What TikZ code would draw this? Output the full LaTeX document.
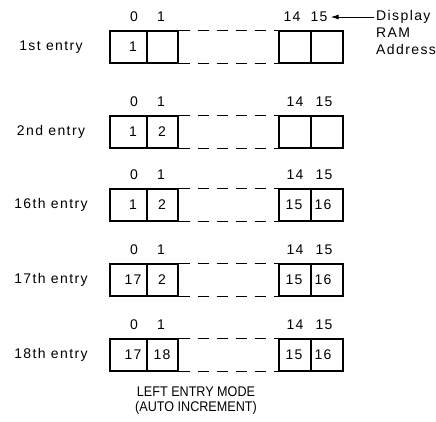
\documentclass[tikz,border=0pt]{standalone}
\usepackage{fontspec}
\setmainfont{Liberation Sans}[LetterSpace=10]
\usetikzlibrary{arrows.meta}
\begin{document}
\begin{tikzpicture}[x=1pt,y=-1pt,
  txt/.style={inner sep=0pt,font=\fontsize{14}{16}\selectfont},
  cell/.style={draw,line width=1.4pt,minimum height=32pt,inner sep=0pt},
  gapline/.style={line width=1.3pt,dash pattern=on 11pt off 8pt}]
\useasboundingbox (0,0) rectangle (436,422);
\foreach \y/\lab/\a/\b/\c/\d [count=\i] in
  {47/{1st entry}/1/{}/{}/{},
   132/{2nd entry}/1/2/{}/{},
   205/{16th entry}/1/2/15/16,
   280/{17th entry}/17/2/15/16,
   355/{18th entry}/17/18/15/16}{
  \node[cell,minimum width=37pt] (r\i-c0) at (128.5,\y) {};
  \node[cell,minimum width=31pt] (r\i-c1) at (162.5,\y) {};
  \node[cell,minimum width=32pt] (r\i-c14) at (295,\y) {};
  \node[cell,minimum width=32pt] (r\i-c15) at (327,\y) {};
  \draw[gapline] (r\i-c1.north east) -- (r\i-c14.north west);
  \draw[gapline] (r\i-c1.south east) -- (r\i-c14.south west);
  \node[txt] (r\i-lab) at (51,\y) {\lab};
  \node[txt] (r\i-t0) at (133,\y) {\a};
  \node[txt] (r\i-t1) at (162,\y) {\b};
  \node[txt] (r\i-t14) at (294,\y) {\c};
  \node[txt] (r\i-t15) at (323,\y) {\d};
  \node[txt] (r\i-i0) at (134,\y-30) {0};
  \node[txt] (r\i-i1) at (161,\y-30) {1};
}
\node[txt] (r1-i14) at (292,17) {14};
\node[txt] (r1-i15) at (319,17) {15};
\foreach \y [count=\i from 2] in {132,205,280,355}{
  \node[txt] (r\i-i14) at (295,\y-30) {14};
  \node[txt] (r\i-i15) at (324,\y-30) {15};
}
\node[txt,anchor=west] (disp) at (376,17) {Display};
\node[txt,anchor=west] (ram) at (376,33) {RAM};
\node[txt,anchor=west] (addr) at (376,49) {Address};
\draw[line width=0.9pt,-{Latex[length=8pt,width=5pt]}] ([xshift=-2pt]disp.west) -- ([xshift=3pt]r1-i15.east);
\node[txt,xscale=0.9,font=\fontsize{14}{16}\selectfont\addfontfeature{LetterSpace=0}] (m1) at (196,392) {LEFT ENTRY MODE};
\node[txt,xscale=0.9,font=\fontsize{14}{16}\selectfont\addfontfeature{LetterSpace=0}] (m2) at (196,408) {(AUTO INCREMENT)};
\end{tikzpicture}
\end{document}
